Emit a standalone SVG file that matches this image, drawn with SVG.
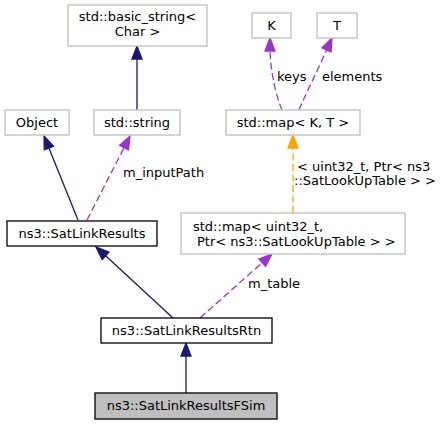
<svg xmlns="http://www.w3.org/2000/svg" width="441" height="425" viewBox="0 0 441 425">
<style>
  text { font-family: "DejaVu Sans", "Liberation Sans", sans-serif; font-size: 13px; fill: #000; }
  .n text { text-anchor: middle; }
  .n text.l { text-anchor: start; }
  .ext { fill: #fff; stroke: #bfbfbf; stroke-width: 1.3; }
  .doc { fill: #fff; stroke: #000; stroke-width: 1.3; }
  .cur { fill: #bfbfbf; stroke: #000; stroke-width: 1.3; }
  .inh { fill: none; stroke: #191970; stroke-width: 1.3; }
  .inhh { fill: #191970; stroke: #191970; stroke-width: 1.3; }
  .use { fill: none; stroke: #9a32cd; stroke-width: 1.3; stroke-dasharray: 7,3.5; }
  .useh { fill: #9a32cd; stroke: #9a32cd; stroke-width: 1.3; }
  .tpl { fill: none; stroke: #ffa500; stroke-width: 1.3; stroke-dasharray: 7,3.5; }
  .tplh { fill: #ffa500; stroke: #ffa500; stroke-width: 1.3; }
</style>
<rect width="441" height="425" fill="#fff"/>
<g id="edges">
  <!-- std::string -> basic_string -->
  <path class="inh" d="M137,110 L137,59"/>
  <polygon class="inhh" points="132,59 137,46 142,59"/>
  <!-- SatLinkResults -> Object -->
  <path class="inh" d="M78,220 L48.9,148"/>
  <polygon class="inhh" points="53.5,146.2 44,136 44.3,149.9"/>
  <!-- SatLinkResults -> std::string -->
  <path class="use" d="M87,220 L124.1,147.6"/>
  <polygon class="useh" points="128.5,149.9 130,136 119.6,145.3"/>
  <text x="123" y="177">m_inputPath</text>
  <!-- map<K,T> -> K -->
  <path class="use" d="M282,110 C276,95 271,75 270,51"/>
  <polygon class="useh" points="265,51 270,38 275,51"/>
  <text x="277" y="81">keys</text>
  <!-- map<K,T> -> T -->
  <path class="use" d="M299,110 C305,95 318,70 326.5,50"/>
  <polygon class="useh" points="331,52.1 332,38 322,47.9"/>
  <text x="322" y="81">elements</text>
  <!-- map<uint32...> -> map<K,T> -->
  <path class="tpl" d="M293,213 L293,148"/>
  <polygon class="tplh" points="288,148 293,135 298,148"/>
  <text x="297" y="171">&lt; uint32_t, Ptr&lt; ns3</text>
  <text x="294" y="185">::SatLookUpTable &gt; &gt;</text>
  <!-- Rtn -> SatLinkResults -->
  <path class="inh" d="M173,318 L105.6,255.8"/>
  <polygon class="inhh" points="109,252.1 96,247 102.2,259.5"/>
  <!-- Rtn -> map<uint32...> -->
  <path class="use" d="M200,318 L262.3,262.6"/>
  <polygon class="useh" points="265.6,266.3 272,254 259,258.9"/>
  <text x="248" y="288">m_table</text>
  <!-- FSim -> Rtn -->
  <path class="inh" d="M186,393 L186,356"/>
  <polygon class="inhh" points="181,356 186,343 191,356"/>
</g>
<g id="node_basic_string" class="n">
  <rect class="ext" x="68" y="5" width="139" height="41"/>
  <text x="137.5" y="21">std::basic_string&lt;</text>
  <text x="137.5" y="36">Char &gt;</text>
</g>
<g id="node_object" class="n">
  <rect class="ext" x="5" y="110" width="64" height="25"/>
  <text x="37" y="127">Object</text>
</g>
<g id="node_string" class="n">
  <rect class="ext" x="94" y="110" width="86" height="25"/>
  <text x="137" y="127">std::string</text>
</g>
<g id="node_K" class="n">
  <rect class="ext" x="252" y="13" width="39" height="25"/>
  <text x="271.5" y="30">K</text>
</g>
<g id="node_T" class="n">
  <rect class="ext" x="317" y="13" width="40" height="25"/>
  <text x="337" y="30">T</text>
</g>
<g id="node_map_KT" class="n">
  <rect class="ext" x="226" y="110" width="134" height="25"/>
  <text x="293" y="127">std::map&lt; K, T &gt;</text>
</g>
<g id="node_SatLinkResults" class="n">
  <rect class="doc" x="7" y="221" width="150" height="25"/>
  <text x="82" y="238">ns3::SatLinkResults</text>
</g>
<g id="node_map_uint32" class="n">
  <rect class="ext" x="181" y="213" width="224" height="41"/>
  <text class="l" x="193" y="231">std::map&lt; uint32_t,</text>
  <text class="l" x="197" y="246">Ptr&lt; ns3::SatLookUpTable &gt; &gt;</text>
</g>
<g id="node_SatLinkResultsRtn" class="n">
  <rect class="doc" x="101" y="318" width="171" height="25"/>
  <text x="186.5" y="335">ns3::SatLinkResultsRtn</text>
</g>
<g id="node_SatLinkResultsFSim" class="n">
  <rect class="cur" x="95" y="393" width="182" height="26"/>
  <text x="186" y="410">ns3::SatLinkResultsFSim</text>
</g>
</svg>
